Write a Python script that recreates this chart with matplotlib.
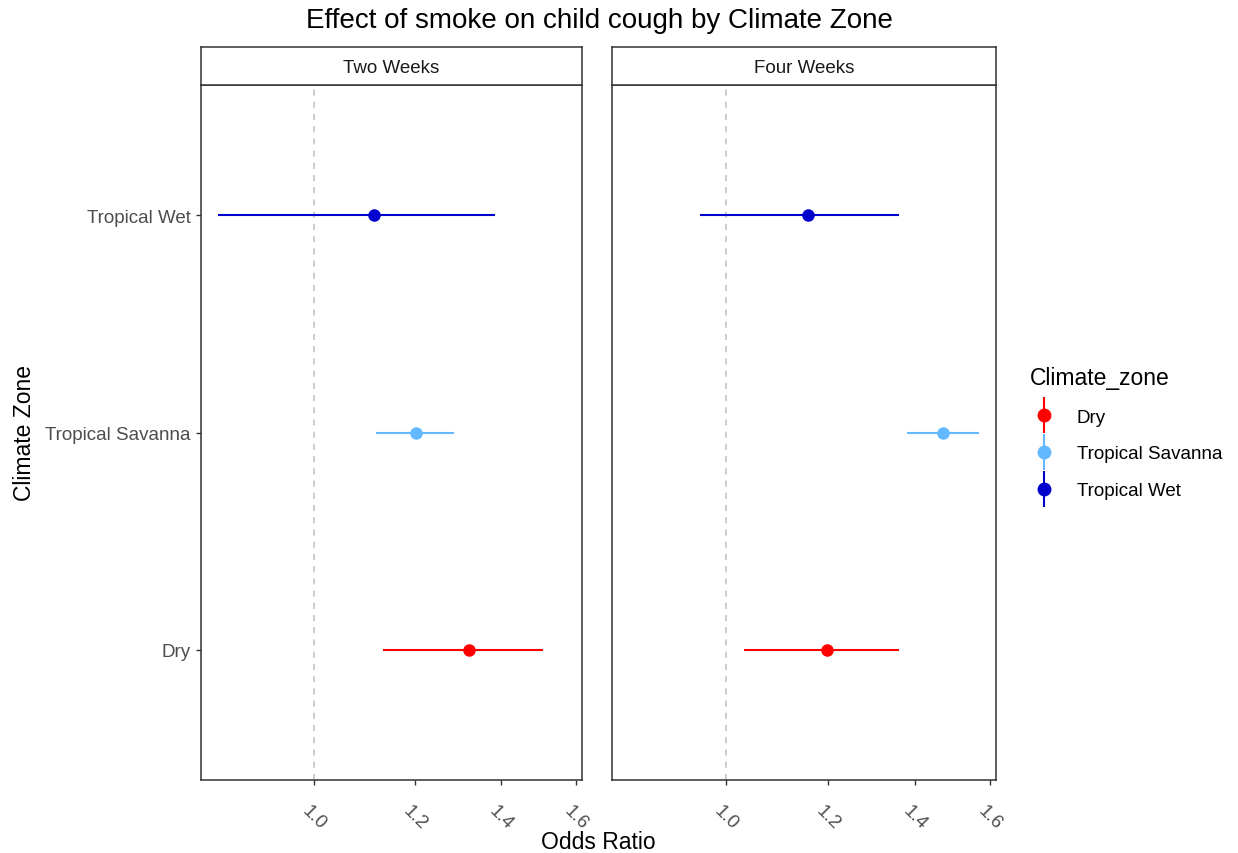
import matplotlib
matplotlib.use("Agg")
import matplotlib.pyplot as plt
from matplotlib.lines import Line2D
from matplotlib.legend_handler import HandlerTuple
from matplotlib.transforms import ScaledTranslation

plt.rcParams['font.family'] = ['Liberation Sans', 'DejaVu Sans']

zones = ['Dry', 'Tropical Savanna', 'Tropical Wet']
colors = ['#FF0000', '#63B8FF', '#0000CD']
panels = ['Two Weeks', 'Four Weeks']

# odds ratio, lower, upper for each zone (Dry, Savanna, Wet)
or_two = [1.321, 1.201, 1.114]
lo_two = [1.133, 1.118, 0.842]
hi_two = [1.510, 1.287, 1.384]

or_four = [1.198, 1.472, 1.158]
lo_four = [1.033, 1.382, 0.955]
hi_four = [1.361, 1.571, 1.361]

xticks = [1.0, 1.2, 1.4, 1.6]
xticklabels = ['1.0', '1.2', '1.4', '1.6']

W, H = 1238, 854
fig = plt.figure(figsize=(W / 100, H / 100), dpi=100)

def fx(px):
    return px / W

def fy(py):
    return 1 - py / H

panel_x = [(201, 582), (612, 996)]
top, bottom = 86, 781
strip_top = 48
frame_col = '#333333'

data = [(or_two, lo_two, hi_two), (or_four, lo_four, hi_four)]
shift = ScaledTranslation(-4 / 100, 0, fig.dpi_scale_trans)

for k, (x0, x1) in enumerate(panel_x):
    ax = fig.add_axes([fx(x0), fy(bottom), fx(x1 - x0), (bottom - top) / H])
    vals, lows, highs = data[k]
    ax.axvline(1.0, color='#BEBEBE', lw=1.1, ls=(0, (4, 4)), zorder=1)
    for i, z in enumerate(zones):
        ax.errorbar(vals[i], i + 1, xerr=[[vals[i] - lows[i]], [highs[i] - vals[i]]],
                    fmt='o', color=colors[i], ms=8, elinewidth=1.5, capsize=0, zorder=3)
    ax.set_xscale('log')
    ax.set_xlim(0.817, 1.618)
    ax.set_ylim(0.4, 3.6)
    ax.minorticks_off()
    ax.set_xticks(xticks)
    ax.set_xticklabels(xticklabels, rotation=-45, ha='center', va='top',
                       color='#4D4D4D', fontsize=13.5)
    for lab in ax.get_xticklabels():
        lab.set_transform(lab.get_transform() + shift)
    ax.tick_params(axis='x', length=3.5, width=1, color=frame_col, pad=12)
    ax.set_yticks([1, 2, 3])
    if k == 0:
        ax.set_yticklabels(zones, color='#4D4D4D', fontsize=13.5)
        ax.tick_params(axis='y', length=3.5, width=1, color=frame_col, pad=4)
    else:
        ax.tick_params(axis='y', length=0, labelleft=False)
    for s in ax.spines.values():
        s.set_color(frame_col)
        s.set_linewidth(1.1)

    sax = fig.add_axes([fx(x0), fy(top), fx(x1 - x0), (top - strip_top) / H])
    sax.set_xticks([])
    sax.set_yticks([])
    for s in sax.spines.values():
        s.set_color(frame_col)
        s.set_linewidth(1.1)
    sax.text(0.5, 0.45, panels[k], ha='center', va='center', fontsize=13.5,
             color='#1A1A1A', transform=sax.transAxes)

fig.text(fx(599), fy(21), 'Effect of smoke on child cough by Climate Zone',
         ha='center', va='center', fontsize=20, color='black')
fig.text(fx(598), fy(843), 'Odds Ratio', ha='center', va='center', fontsize=16.5)
fig.text(fx(25), fy(433), 'Climate Zone', ha='center', va='center', rotation=90,
         fontsize=16.5)

handles = []
for c in colors:
    vline = Line2D([], [], color=c, marker='|', ms=26, mew=1.5, ls='none')
    dot = Line2D([], [], color=c, marker='o', ms=9, ls='none')
    handles.append((vline, dot))

leg = fig.legend(handles, zones, loc='upper left', bbox_to_anchor=(fx(1013), fy(350)),
                 frameon=False, title='Climate_zone', fontsize=13.5,
                 title_fontsize=16.5, labelspacing=1.05, handlelength=1.5,
                 handletextpad=1.0, alignment='left',
                 handler_map={tuple: HandlerTuple(ndivide=1)})

fig.savefig('out.png', dpi=100)
